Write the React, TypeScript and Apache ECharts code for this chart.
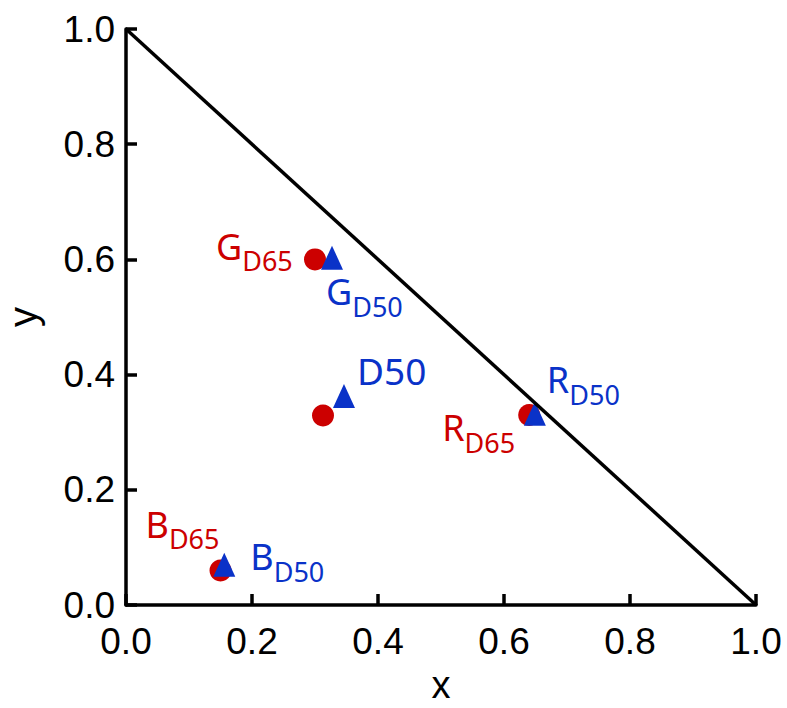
import React, { useEffect, useRef } from "react";
import * as echarts from "echarts";

// CIE xy chromaticity of sRGB primaries (D65) and adapted primaries (D50)
const primaryNames = ["R", "G", "B", ""];
const d65X = [0.64, 0.3, 0.15, 0.3127];
const d65Y = [0.33, 0.6, 0.06, 0.329];
const d50X = [0.649, 0.327, 0.156, 0.346];
const d50Y = [0.332, 0.603, 0.07, 0.363];
const boundaryX = [0, 1];
const boundaryY = [1, 0];
const xTicks = ["0.0", "0.2", "0.4", "0.6", "0.8", "1.0"];

const RED = "#cc0000";
const BLUE = "#0a32c8";
const LABEL_FONT = "Noto Sans";
const AXIS_FONT = "Liberation Sans";

// label offsets (text box top-left relative to marker centre)
const d65Offsets = [[-87, -5], [-99, -31], [-75, -64], null];
const d50Offsets = [[12, -52], [-6, 16], [26, -26], [13, -44]];

function richFor(color: string) {
  return {
    m: { fontSize: 36, lineHeight: 36, verticalAlign: "top", color, fontFamily: LABEL_FONT },
    s: { fontSize: 27, lineHeight: 46, padding: [19, 0, 0, 0], verticalAlign: "bottom", color, fontFamily: LABEL_FONT },
    b: { fontSize: 37, lineHeight: 37, verticalAlign: "top", color, fontFamily: LABEL_FONT },
  };
}

function buildPoints(xs: number[], ys: number[], offsets: any[], sub: string, color: string) {
  return xs.map((x, i) => {
    const off = offsets[i];
    const name = primaryNames[i];
    const text = name ? `{m|${name}}{s|${sub}}` : `{b|${sub}}`;
    return {
      value: [x, ys[i]],
      label: off
        ? {
            show: true,
            position: "inside",
            align: "left",
            verticalAlign: "top",
            offset: off,
            formatter: text,
            color,
            textBorderWidth: 0,
            rich: richFor(color),
          }
        : { show: false },
    };
  });
}

export default function App() {
  const ref = useRef<HTMLDivElement>(null);
  useEffect(() => {
    if (!ref.current) return;
    const chart = echarts.init(ref.current, null, { renderer: "svg" });
    const axisLine = { show: true, lineStyle: { color: "#000", width: 3.5 } };
    const axisTick = { show: true, inside: true, length: 11, lineStyle: { color: "#000", width: 3.5 } };
    chart.setOption({
      animation: false,
      backgroundColor: "#fff",
      grid: {
        left: 126,
        right: 31,
        top: 29,
        bottom: 103,
        containLabel: false,
        outerBoundsMode: "none",
      },
      xAxis: {
        type: "value",
        min: 0,
        max: 1,
        interval: 0.2,
        name: "x",
        nameLocation: "middle",
        nameGap: 65,
        nameTextStyle: { fontSize: 38, lineHeight: 30, fontFamily: AXIS_FONT, color: "#000" },
        axisLine,
        axisTick,
        splitLine: { show: false },
        axisLabel: {
          fontSize: 37,
          fontFamily: AXIS_FONT,
          color: "#000",
          margin: 18,
          formatter: (v: number) => xTicks[Math.round(v * 5)] ?? v.toFixed(1),
        },
      },
      yAxis: {
        type: "value",
        min: 0,
        max: 1,
        interval: 0.2,
        name: "y",
        nameLocation: "middle",
        nameGap: 83,
        nameTextStyle: { fontSize: 40, fontFamily: AXIS_FONT, color: "#000" },
        axisLine,
        axisTick,
        splitLine: { show: false },
        axisLabel: {
          fontSize: 37,
          fontFamily: AXIS_FONT,
          color: "#000",
          margin: 11,
          formatter: (v: number) => v.toFixed(1),
        },
      },
      series: [
        {
          type: "scatter",
          symbol: "circle",
          symbolSize: 22,
          itemStyle: { color: RED, opacity: 1 },
          data: buildPoints(d65X, d65Y, d65Offsets, "D65", RED),
          z: 2,
        },
        {
          type: "scatter",
          symbol: "triangle",
          symbolSize: [22, 24],
          itemStyle: { color: BLUE, opacity: 1 },
          data: buildPoints(d50X, d50Y, d50Offsets, "D50", BLUE),
          z: 3,
        },
        {
          type: "line",
          data: boundaryX.map((x, i) => [x, boundaryY[i]]),
          symbol: "none",
          lineStyle: { color: "#000", width: 3.5 },
          z: 4,
        },
      ],
    });
    return () => chart.dispose();
  }, []);
  return (
    <div
      ref={ref}
      style={{ position: "absolute", left: 0, top: 0, width: 787, height: 708 }}
    />
  );
}
